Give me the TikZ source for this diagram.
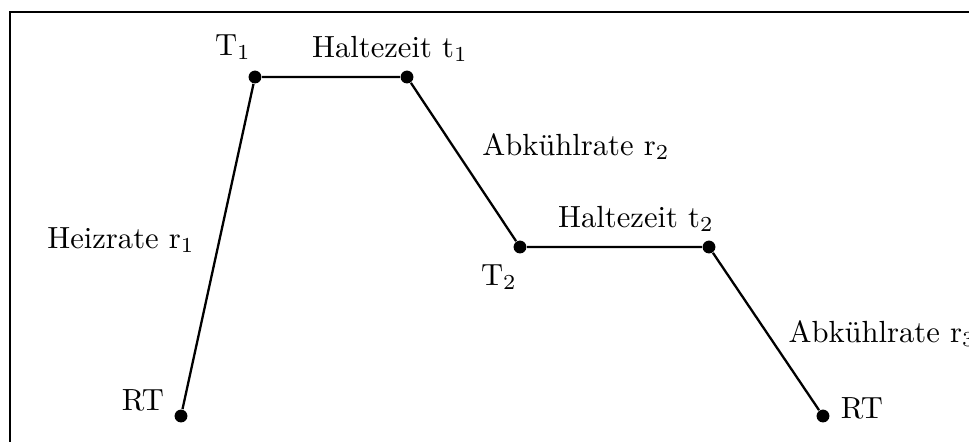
\documentclass[tikz,border=0pt]{standalone}
\usepackage{amsmath}
\begin{document}
\begin{tikzpicture}[x=0.327pt, y=-0.327pt,
        dot/.style={circle, fill=black, inner sep=0pt, minimum size=4.2pt},
        lbl/.style={inner sep=0pt, anchor=base}]

        % Frame
        \useasboundingbox (0,0) rectangle (969,441);
        \draw[line width=0.8pt] (10,12) rectangle (1010,480);

        % Points of the profile
        \node[dot] (rtA) at (181,416) {};
        \node[dot] (tA)  at (255,77) {};
        \node[dot] (hA)  at (407,77) {};
        \node[dot] (tB)  at (520,247) {};
        \node[dot] (hB)  at (709,247) {};
        \node[dot] (rtB) at (823,416) {};

        % Profile
        \draw[line width=0.75pt] (rtA) -- (tA) -- (hA) -- (tB) -- (hB) -- (rtB);

        % Labels
        \node[lbl] (lrtA) at (143,410) {RT};
        \node[lbl] (ltA)  at (233,55) {T$_1$};
        \node[lbl] (lhA)  at (390,57) {Haltezeit t$_1$};
        \node[lbl] (lrA)  at (121,248) {Heizrate r$_1$};
        \node[lbl] (lrB)  at (576,155) {Abkühlrate r$_2$};
        \node[lbl] (ltB)  at (499,285) {T$_2$};
        \node[lbl] (lhB)  at (636,227) {Haltezeit t$_2$};
        \node[lbl, anchor=base west] (lrC) at (788,342) {Abkühlrate r$_3$};
        \node[lbl] (lrtB) at (862,418) {RT};

    \end{tikzpicture}
\end{document}
